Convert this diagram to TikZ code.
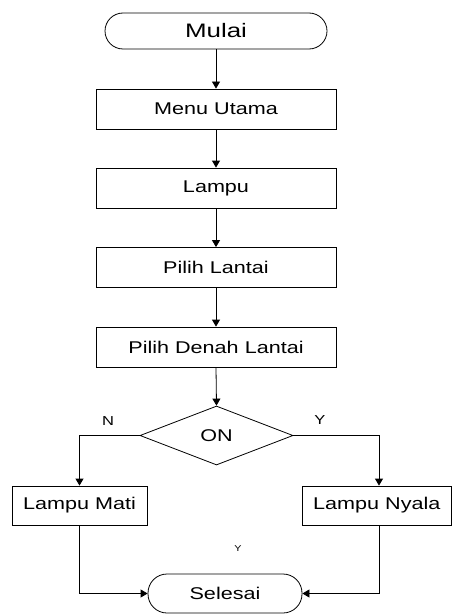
\documentclass[tikz,border=0pt]{standalone}
\usepackage{fontspec}
\newfontfamily\stf[FakeStretch=1.27]{Liberation Sans}
\newfontfamily\stfm[FakeStretch=1.33]{Liberation Sans}
\usetikzlibrary{arrows.meta,shapes.geometric}
\tikzset{
  flowbox/.style={draw, line width=0.8pt, rectangle, inner sep=0pt, font=\stf\fontsize{17}{19}\selectfont},
  term/.style={draw, line width=0.8pt, rectangle, inner sep=0pt, rounded corners=18pt, font=\stf\fontsize{17}{19}\selectfont},
  dec/.style={draw, line width=0.8pt, diamond, inner sep=0pt, font=\stf\fontsize{17}{19}\selectfont},
  conn/.style={draw, line width=0.8pt, -{Triangle[length=7pt,width=8pt]}},
  lbl/.style={inner sep=0pt, font=\stf\fontsize{13}{15}\selectfont}
}
\begin{document}
\begin{tikzpicture}[x=1pt,y=-1pt]
\useasboundingbox (0,0) rectangle (452,615);
\node[term, minimum width=222pt, minimum height=36pt, font=\stfm\fontsize{19.5}{21}\selectfont] (mulai) at (216,31) {Mulai};
\node[flowbox, minimum width=240pt, minimum height=40pt] (menu) at (216,109) {Menu Utama};
\node[flowbox, minimum width=240pt, minimum height=40pt] (lampu) at (216,188) {Lampu};
\node[flowbox, minimum width=240pt, minimum height=40pt] (lantai) at (216,267.5) {Pilih Lantai};
\node[flowbox, minimum width=240pt, minimum height=40pt] (denah) at (216,347) {Pilih Denah Lantai};
\node[dec, minimum width=153pt, minimum height=59pt] (on) at (216.5,435.5) {ON};
\node[flowbox, minimum width=135pt, minimum height=39pt] (mati) at (79.5,505.5) {Lampu Mati};
\node[flowbox, minimum width=149pt, minimum height=39pt] (nyala) at (376.8,505.5) {Lampu Nyala};
\node[term, minimum width=154pt, minimum height=39pt, rounded corners=19pt] (selesai) at (225,593.5) {Selesai};
\node[lbl] (n) at (108,421) {N};
\node[lbl] (y) at (320,420) {Y};
\node[lbl, font=\stf\fontsize{8.5}{10}\selectfont] (y2) at (238,549) {Y};
\draw[conn] (mulai) -- (menu);
\draw[conn] (menu) -- (lampu);
\draw[conn] (lampu) -- (lantai);
\draw[conn] (lantai) -- (denah);
\draw[conn] (denah.south) -- (on.north);
\draw[conn] (on.west) -| (mati.north);
\draw[conn] (on.east) -| ([xshift=2.2pt]nyala.north);
\draw[conn] (mati.south) |- (selesai.west);
\draw[conn] ([xshift=2.2pt]nyala.south) |- (selesai.east);
\end{tikzpicture}
\end{document}
